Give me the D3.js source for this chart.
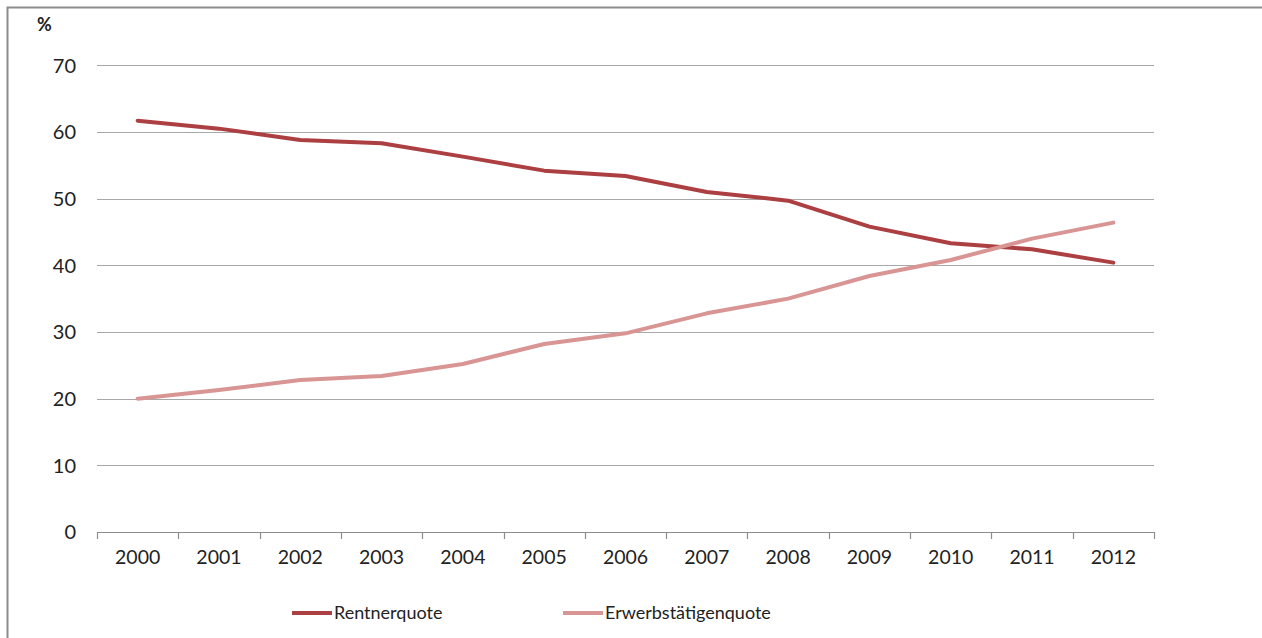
<!DOCTYPE html>
<html>
<head>
<meta charset="utf-8">
<script src="https://cdn.jsdelivr.net/npm/d3@7"></script>
<style>
  html, body { margin: 0; padding: 0; background: #fff; }
  svg { display: block; }
  text { font-family: Lato, "Open Sans", sans-serif; fill: #222; }
</style>
</head>
<body>
<svg id="chart" width="1262" height="638"></svg>
<script>
const years = ["2000","2001","2002","2003","2004","2005","2006","2007","2008","2009","2010","2011","2012"];
const rentnerquote = [61.7, 60.5, 58.8, 58.3, 56.3, 54.2, 53.4, 51.0, 49.7, 45.8, 43.3, 42.4, 40.4];
const erwerbstaetigenquote = [20.0, 21.3, 22.8, 23.4, 25.2, 28.2, 29.8, 32.8, 35.0, 38.4, 40.8, 44.0, 46.4];
const yTicks = [0, 10, 20, 30, 40, 50, 60, 70];
const seriesNames = ["Rentnerquote", "Erwerbstätigenquote"];
const seriesColors = ["#ab3f41", "#d89594"];

const svg = d3.select("#chart");
const W = 1262, H = 638;
const plot = { left: 97, right: 1154, top: 65.3, bottom: 532 };

// outer border (left + top only visible)
svg.append("path")
  .attr("d", `M7.5,${H} L7.5,7.5 L${W},7.5`)
  .attr("fill", "none").attr("stroke", "#8c8c8c").attr("stroke-width", 2);

const x = d3.scaleBand().domain(years).range([plot.left, plot.right]).padding(0);
const y = d3.scaleLinear().domain([0, 70]).range([plot.bottom, plot.top]);

// gridlines
svg.append("g").selectAll("line").data(yTicks.filter(d => d > 0)).join("line")
  .attr("x1", plot.left).attr("x2", plot.right)
  .attr("y1", d => Math.round(y(d)) + 0.5).attr("y2", d => Math.round(y(d)) + 0.5)
  .attr("stroke", "#a8a8a8").attr("stroke-width", 1.2);

// y labels
svg.append("g").selectAll("text").data(yTicks).join("text")
  .attr("x", 76).attr("y", d => y(d)).attr("dy", "0.36em")
  .attr("text-anchor", "end").style("font-size", "20px")
  .text(d => d);

svg.append("text").attr("x", 37).attr("y", 25).attr("dy", "0.36em")
  .style("font-size", "18px").style("font-weight", "bold").text("%");

// x axis
const xAxis = d3.axisBottom(x).tickSize(0).tickPadding(0);
const gx = svg.append("g").attr("transform", `translate(0,${Math.round(plot.bottom) + 0.5})`).call(xAxis);
gx.select(".domain").remove();
gx.selectAll("text").remove();
svg.append("line").attr("x1", plot.left).attr("x2", plot.right)
  .attr("y1", Math.round(plot.bottom) + 0.5).attr("y2", Math.round(plot.bottom) + 0.5)
  .attr("stroke", "#8c8c8c").attr("stroke-width", 1.2);
const boundaries = years.map(d => x(d)).concat([x(years[years.length - 1]) + x.bandwidth()]);
svg.append("g").selectAll("line").data(boundaries).join("line")
  .attr("x1", d => Math.round(d) + 0.5).attr("x2", d => Math.round(d) + 0.5)
  .attr("y1", Math.round(plot.bottom)).attr("y2", Math.round(plot.bottom) + 7)
  .attr("stroke", "#8c8c8c").attr("stroke-width", 1.2);
svg.append("g").selectAll("text").data(years).join("text")
  .attr("x", d => x(d) + x.bandwidth() / 2).attr("y", 557).attr("dy", "0.36em")
  .attr("text-anchor", "middle").style("font-size", "19.5px")
  .text(d => d);

// lines
const line = d3.line().x((d, i) => x(years[i]) + x.bandwidth() / 2).y(d => y(d));
[rentnerquote, erwerbstaetigenquote].forEach((vals, k) => {
  svg.append("path").datum(vals)
    .attr("d", line).attr("fill", "none")
    .attr("stroke", seriesColors[k]).attr("stroke-width", 4)
    .attr("stroke-linejoin", "round").attr("stroke-linecap", "round");
});

// legend
const legendX = [292, 563];
seriesNames.forEach((name, k) => {
  svg.append("line").attr("x1", legendX[k]).attr("x2", legendX[k] + 40)
    .attr("y1", 613).attr("y2", 613)
    .attr("stroke", seriesColors[k]).attr("stroke-width", 4);
  svg.append("text").attr("x", legendX[k] + 42).attr("y", 613).attr("dy", "0.36em")
    .style("font-size", "18px").text(name);
});
</script>
</body>
</html>
